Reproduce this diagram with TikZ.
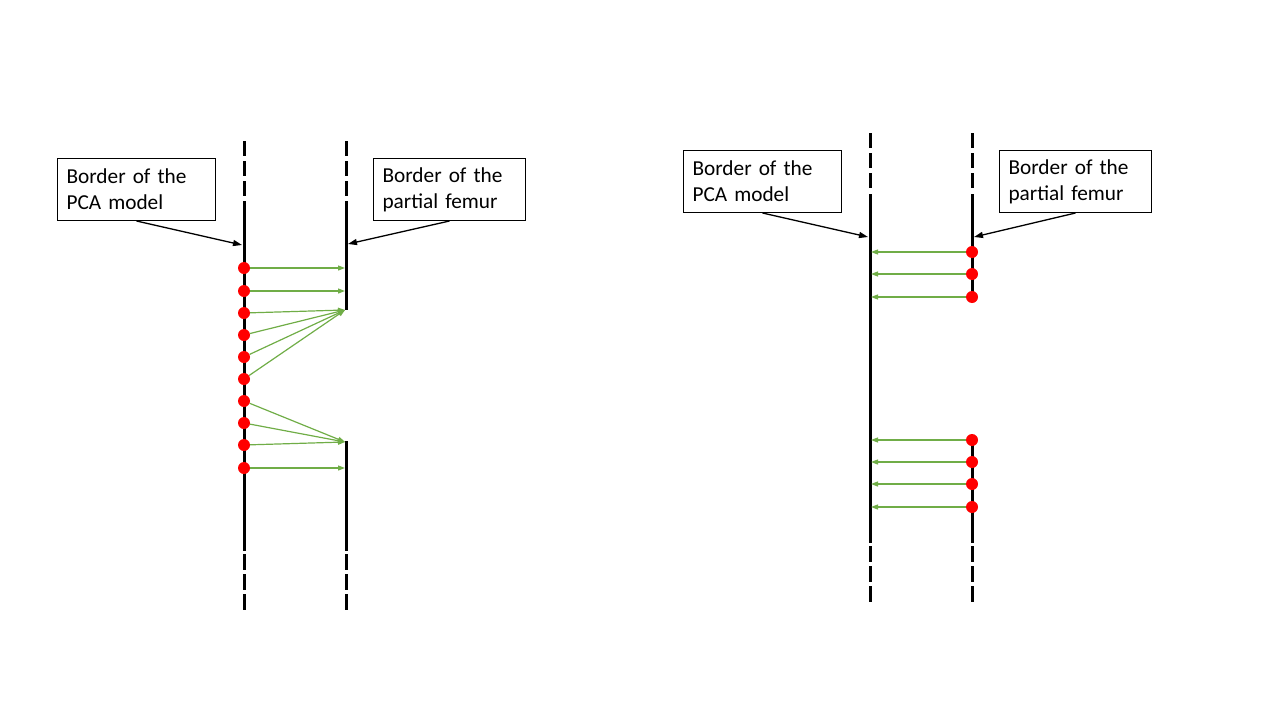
\documentclass[tikz,border=0pt]{standalone}
\usepackage{fontspec}
\setmainfont{Carlito}
\usetikzlibrary{arrows.meta}
\definecolor{matchgreen}{HTML}{70AD47}
\tikzset{
  border/.style={line width=3pt},
  borderdash/.style={line width=3pt, dash pattern=on 15pt off 5pt},
  labelbox/.style={draw, line width=1pt, anchor=north west, inner xsep=9pt, inner ysep=0pt,
    text width=140pt, minimum height=62pt, align=left, font=\fontsize{21.3}{26}\selectfont},
  dot/.style={circle, fill=red, inner sep=0pt, minimum size=12pt},
  pointer/.style={line width=1.3pt, -{Triangle[length=9pt,width=6pt]}},
  match/.style={matchgreen, line width=1.2pt, -{Triangle[length=7pt,width=5pt]}}
}
\begin{document}
\begin{tikzpicture}[x=1pt,y=-1pt]
  \useasboundingbox (0,0) rectangle (1280,720);
  % left: model points matched onto the femur border
  \draw[borderdash] (244,141) -- (244,196);
  \draw[border] (244,201) -- (244,551);
  \draw[borderdash, dash pattern=on 16pt off 4pt] (244,554) -- (244,611);
  \draw[borderdash] (346,141) -- (346,196);
  \draw[border] (346,201) -- (346,310);
  \draw[border] (346,441) -- (346,551);
  \draw[borderdash, dash pattern=on 16pt off 4pt] (346,554) -- (346,611);
  \node[labelbox] (pcaL) at (57,158) {Border of the PCA model};
  \node[labelbox, text width=134pt] (femurL) at (373,158) {Border of the partial femur};
  \coordinate (pcaLtip) at (242,245);
  \coordinate (femurLtip) at (348,244);
  \draw[pointer] (pcaL.south) -- (pcaLtip);
  \draw[pointer] (femurL.south) -- (femurLtip);
  \foreach \y [count=\i] in {268,291,313,335,357,379,401,423,445,468}
    \node[dot] (l\i) at (244,\y) {};
  \coordinate (t1) at (345,268);
  \coordinate (t2) at (345,291);
  \coordinate (fa) at (345,310);
  \coordinate (fb) at (345,442);
  \coordinate (t10) at (345,468);
  \foreach \i/\t in {1/t1,2/t2,3/fa,4/fa,5/fa,6/fa,7/fb,8/fb,9/fb,10/t10}
    \draw[match] (l\i) -- (\t);
  % right: femur points matched onto the model border
  \draw[borderdash] (870,133) -- (870,189);
  \draw[border] (870,194) -- (870,543);
  \draw[borderdash, dash pattern=on 16pt off 4pt] (870,546) -- (870,603);
  \draw[borderdash] (972,133) -- (972,189);
  \draw[border] (972,194) -- (972,297);
  \draw[border] (972,440) -- (972,543);
  \draw[borderdash, dash pattern=on 16pt off 4pt] (972,546) -- (972,603);
  \node[labelbox] (pcaR) at (683,150) {Border of the PCA model};
  \node[labelbox, text width=134pt] (femurR) at (999,150) {Border of the partial femur};
  \coordinate (pcaRtip) at (868,237);
  \coordinate (femurRtip) at (974,237);
  \draw[pointer] (pcaR.south) -- (pcaRtip);
  \draw[pointer] (femurR.south) -- (femurRtip);
  \foreach \y [count=\i] in {252,274,297,440,462,484,507} {
    \node[dot] (r\i) at (972,\y) {};
    \coordinate (s\i) at (871,\y);
    \draw[match] (r\i) -- (s\i);
  }
\end{tikzpicture}
\end{document}
